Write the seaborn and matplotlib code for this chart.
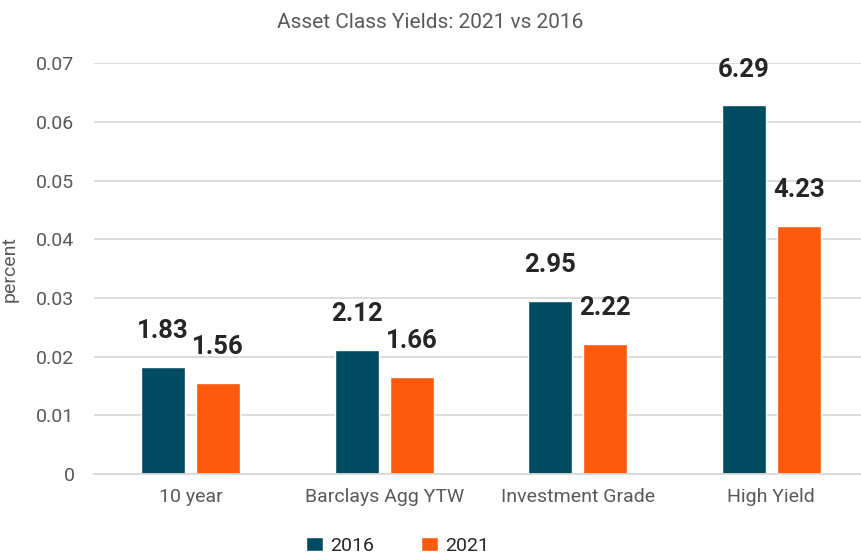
import matplotlib
matplotlib.use("Agg")
import matplotlib.pyplot as plt
import pandas as pd
import seaborn as sns

# values (as fractions; labels show them in percent)
categories = ["10 year", "Barclays Agg YTW", "Investment Grade", "High Yield"]
years = ["2016", "2021"]
yield_2016 = [0.0183, 0.0212, 0.0295, 0.0629]
yield_2021 = [0.0156, 0.0166, 0.0222, 0.0423]
yticks = [0, 0.01, 0.02, 0.03, 0.04, 0.05, 0.06, 0.07]
ytick_labels = ["0", "0.01", "0.02", "0.03", "0.04", "0.05", "0.06", "0.07"]

df = pd.DataFrame({
    "category": categories * 2,
    "year": [years[0]] * 4 + [years[1]] * 4,
    "value": yield_2016 + yield_2021,
})

sns.set_style("white")
plt.rcParams["font.family"] = ["Roboto", "DejaVu Sans"]

text_grey = "#595959"
grid_grey = "#D9D9D9"

fig = plt.figure(figsize=(8.61, 5.57), dpi=100)
ax = fig.add_axes([0.109, 0.149, 0.891, 0.737])

sns.barplot(data=df, x="category", y="value", hue="year", order=categories,
            hue_order=years, palette=["#004B60", "#FE5A0E"], width=0.568,
            gap=0.2, saturation=1, errorbar=None, ax=ax)

for cont in ax.containers:
    ax.bar_label(cont, fmt=lambda v: f"{v * 100:.2f}", padding=17,
                 fontsize=18.5, fontweight="bold", color="#262626")

ax.set_ylim(0, 0.07)
ax.set_xlim(-0.5, 3.464)
ax.set_yticks(yticks)
ax.set_yticklabels(ytick_labels)
ax.yaxis.grid(True, color=grid_grey, linewidth=1.3)
ax.set_axisbelow(True)
for s in ["top", "right", "left"]:
    ax.spines[s].set_visible(False)
ax.spines["bottom"].set_color(grid_grey)
ax.spines["bottom"].set_linewidth(1.3)
ax.tick_params(axis="both", length=0, labelsize=14, labelcolor=text_grey)
ax.tick_params(axis="y", pad=14)
ax.tick_params(axis="x", pad=10)
ax.set_xlabel("")
ax.set_ylabel("percent", fontsize=14, color=text_grey)
ax.yaxis.set_label_coords(-0.098, 0.5)

handles, labels = ax.get_legend_handles_labels()
ax.get_legend().remove()
fig.legend(handles, labels, loc="center", bbox_to_anchor=(0.462, 0.02),
           ncol=2, frameon=False, fontsize=14, handlelength=0.85,
           handleheight=0.75, handletextpad=0.4, columnspacing=2.4,
           labelcolor="#262626")

fig.text(0.5, 0.96, "Asset Class Yields: 2021 vs 2016", ha="center",
         va="center", fontsize=15, color=text_grey)

fig.savefig("out.png", dpi=100)
